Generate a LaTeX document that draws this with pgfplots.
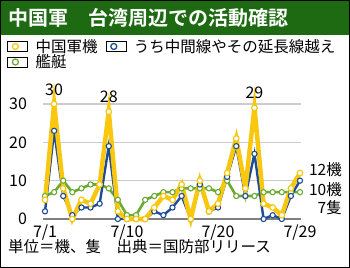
\documentclass[border=0pt]{standalone}
\usepackage{fontspec}
\setmainfont{Noto Sans CJK JP}[BoldFont={Noto Sans CJK JP Bold}]
\usepackage{pgfplots}
\pgfplotsset{compat=1.18}
\usepackage{pgfplotstable}

\definecolor{titlegreen}{HTML}{1D6A12}
\definecolor{planeyellow}{HTML}{F9C80E}
\definecolor{lineblue}{HTML}{1E4C9A}
\definecolor{shipgreen}{HTML}{6CAA33}

% Daily counts, July: aircraft, aircraft crossing the median line, vessels
\pgfplotstableread{
day jets midline ships
1   5   2   6
2   30  23  7
3   8   6   10
4   0   1   7
5   5   3   8
6   4   3   9
7   9   4   9
8   28  19  8
9   2   0   5
10  0   0   1
11  0   0   1
12  0   0   5
13  3   2   6
14  6   1   7
15  5   3   7
16  9   6   8
17  0   0   8
18  10  9   8
19  2   2   8
20  4   3   7
21  12  11  10
22  21  19  6
23  8   6   6
24  29  17  6
25  4   0   7
26  3   1   7
27  1   0   7
28  8   6   7
29  12  10  7
}\activity

\newcommand{\ticksize}{\fontsize{16bp}{18bp}\selectfont}
\newcommand{\textsz}{\fontsize{15.5bp}{17bp}\selectfont}

% legend symbol: open circle only
\newcommand{\legendring}[1]{%
  \addlegendimage{legend image code/.code={%
    \path (0bp,-5bp) rectangle (20bp,5bp);
    \draw[fill=white, draw=#1, line width=1.3bp] (8bp,0bp) circle (3bp);}}}

\begin{document}
\begin{tikzpicture}[x=1bp,y=1bp]
\useasboundingbox (0,0) rectangle (350,268);
\fill[white] (0,0) rectangle (350,268);
\fill[titlegreen] (0,233) rectangle (350,268);
\draw[black, line width=1.2bp] (0.6,0.6) rectangle (349.4,267.4);
\node[anchor=west, text=white, inner sep=0pt, font=\fontsize{20bp}{24bp}\selectfont\bfseries] at (8,250) {中国軍　台湾周辺での活動確認};

\begin{axis}[
  at={(43.2bp,49bp)}, anchor=south west,
  scale only axis, width=257.7bp, height=115bp,
  xmin=0.8, xmax=29.1, ymin=0, ymax=30,
  clip=false,
  axis line style={draw=none},
  major tick length=0pt,
  xtick={1,10,20,29}, xticklabels={7/1,7/10,7/20,7/29},
  ytick={10,20,30},
  extra y ticks={0},
  extra y tick style={grid=major, major grid style={draw=black!50, line width=2bp}},
  ymajorgrids, major grid style={draw=black!20, line width=1.5bp},
  /pgf/number format/assume math mode=true,
  tick label style={font=\ticksize, inner sep=0pt},
  yticklabel style={anchor=east, xshift=-16bp},
  xticklabel style={anchor=north, yshift=-6bp},
  legend columns=2,
  legend style={at={(-0.1405,1.565)}, anchor=north west, draw=none, fill=none,
    font=\textsz, row sep=1bp, inner sep=0pt,
    nodes={inner sep=0pt, anchor=west, font=\textsz},
    /tikz/every odd column/.append style={column sep=8bp},
    /tikz/every even column/.append style={column sep=8bp}},
]
\legendring{planeyellow}
\addlegendentry{中国軍機}
\legendring{lineblue}
\addlegendentry{うち中間線やその延長線越え}
\legendring{shipgreen}
\addlegendentry{艦艇}

\addplot[forget plot, shipgreen, line width=2.6bp, mark=*, mark size=2.6bp,
  mark options={fill=white, draw=shipgreen, line width=1.1bp}]
  table[x=day, y=ships] {\activity};
\addplot[forget plot, lineblue, line width=2.4bp, mark=*, mark size=2.6bp,
  mark options={fill=white, draw=lineblue, line width=1.1bp}]
  table[x=day, y=midline] {\activity};
\addplot[forget plot, planeyellow, line width=4.5bp, mark=*, mark size=2.8bp,
  mark options={fill=white, draw=planeyellow, line width=1.2bp}]
  table[x=day, y=jets] {\activity};

\node[font=\ticksize, inner sep=0pt, yshift=14bp] at (axis cs:2,30) {30};
\node[font=\ticksize, inner sep=0pt, yshift=15bp] at (axis cs:8,28) {28};
\node[font=\ticksize, inner sep=0pt, yshift=15bp] at (axis cs:24,29) {29};
\end{axis}

\node[anchor=east, font=\textsz, inner sep=0pt] at (342,98) {12機};
\node[anchor=east, font=\textsz, inner sep=0pt] at (342,78) {10機};
\node[anchor=east, font=\textsz, inner sep=0pt] at (342,60) {7隻};
\node[anchor=west, font=\textsz, inner sep=0pt] at (8,21) {単位＝機、隻　出典＝国防部リリース};
\end{tikzpicture}
\end{document}
